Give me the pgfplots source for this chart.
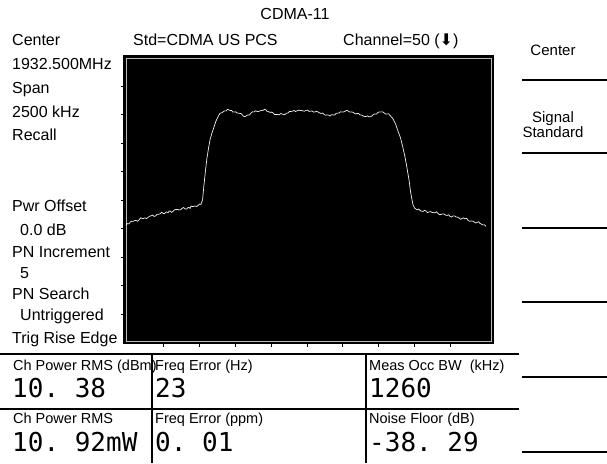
\documentclass[border=0pt]{standalone}
\usepackage{fontspec}
\setmainfont{Liberation Sans}
\setmonofont{DejaVu Sans Mono}
\newfontfamily\symfont{DejaVu Sans}
\usepackage{pgfplots}
\pgfplotsset{compat=1.18}

% text placed in picture pixels (1pt = 1px), y measured down from the top
\newcommand{\lab}[3]{\node[anchor=base west, inner sep=0pt, font=\fontsize{16}{19}\selectfont] at (#1pt,-#2pt) {#3};}
\newcommand{\tlab}[3]{\node[anchor=base west, inner sep=0pt, font=\fontsize{14.5}{17}\selectfont] at (#1pt,-#2pt) {#3};}
\newcommand{\val}[3]{\node[anchor=base west, inner sep=0pt, font=\fontsize{26}{30}\ttfamily] at (#1pt,-#2pt) {#3};}

\begin{document}
\begin{tikzpicture}
\useasboundingbox (0,0) rectangle (607pt,-463pt);

\begin{axis}[
    at={(124pt,-343pt)}, anchor=south west,
    scale only axis, width=369pt, height=287pt,
    xmin=-1274, xmax=1296, ymin=-80.2, ymax=20.5,
    xtick={-1000,-750,...,1000}, ytick={-70,-60,...,10},
    xticklabels={}, yticklabels={},
    xtick pos=bottom, ytick pos=left, tick align=outside,
    major tick length=3.5pt,
    tick style={black, line width=0.8pt},
    axis line style={black, line width=1.3pt},
    axis background/.style={fill=black},
  ]
  % inner light frame of the display
  \draw[gray!55, line width=0.9pt] ([shift={(2pt,2pt)}]rel axis cs:0,0) rectangle ([shift={(-2pt,-2pt)}]rel axis cs:1,1);

  % spectrum trace: offset from centre (kHz), level (dB)
  \addplot[gray!12, line width=0.7pt] coordinates {
    (-1260,-38.94) (-1253,-38.28) (-1246,-38.42) (-1239,-38.36) (-1232,-37.89)
    (-1222,-37.42) (-1211,-37.54) (-1200,-37.27) (-1190,-37.19) (-1180,-37.50)
    (-1169,-37.01) (-1158,-36.25) (-1148,-36.49) (-1138,-36.50) (-1128,-36.31)
    (-1117,-36.53) (-1107,-36.14) (-1096,-35.68) (-1086,-35.61) (-1075,-35.30)
    (-1065,-35.78) (-1054,-35.63) (-1044,-35.08) (-1033,-35.00) (-1023,-34.91)
    (-1012,-34.32) (-1002,-34.73) (-991,-34.77) (-981,-34.21) (-974,-34.29)
    (-967,-34.56) (-960,-33.91) (-953,-33.86) (-943,-34.35) (-933,-34.03)
    (-922,-33.48) (-912,-33.33) (-901,-33.32) (-891,-33.50) (-880,-33.44)
    (-870,-32.98) (-859,-32.67) (-849,-33.15) (-838,-33.19) (-828,-32.63)
    (-821,-32.60) (-814,-32.98) (-807,-32.13) (-800,-32.28) (-790,-32.29)
    (-779,-32.10) (-768,-32.32) (-758,-31.93) (-748,-31.45) (-738,-31.57)
    (-727,-30.00) (-717,-24.73) (-706,-19.47) (-696,-15.26) (-685,-11.75)
    (-675,-8.94) (-661,-6.49) (-647,-4.38) (-633,-2.28) (-616,-0.52)
    (-607,0.30) (-598,0.53) (-590,0.60) (-581,1.06) (-572,1.25)
    (-563,1.23) (-553,1.76) (-543,1.58) (-534,1.40) (-525,1.41)
    (-517,0.85) (-508,0.88) (-498,0.91) (-487,0.53) (-477,0.45)
    (-466,0.36) (-456,0.22) (-445,-0.52) (-437,-0.81) (-428,-0.70)
    (-419,-0.34) (-410,-0.17) (-400,-0.17) (-389,0.53) (-379,0.91)
    (-368,0.88) (-358,1.27) (-348,1.06) (-338,1.05) (-327,1.23)
    (-317,1.42) (-306,1.41) (-296,1.80) (-285,1.58) (-278,1.07)
    (-271,1.06) (-264,0.89) (-257,0.71) (-247,0.82) (-236,0.53)
    (-226,-0.03) (-215,0.00) (-205,0.01) (-194,-0.17) (-184,0.30)
    (-173,0.18) (-163,-0.11) (-153,0.00) (-143,0.37) (-132,0.53)
    (-122,1.05) (-111,1.06) (-101,1.14) (-90,1.41) (-80,1.02)
    (-69,1.23) (-59,1.52) (-48,1.41) (-38,1.42) (-27,1.23)
    (-17,1.12) (-6,1.41) (5,1.54) (15,1.06) (26,1.15)
    (36,1.23) (46,0.81) (56,0.88) (67,1.08) (77,0.88)
    (88,0.52) (98,0.36) (109,0.48) (119,0.00) (130,-0.29)
    (140,-0.17) (151,-0.25) (161,-0.52) (172,-0.10) (182,-0.17)
    (193,-0.20) (203,0.36) (214,0.45) (224,0.53) (234,0.91)
    (244,0.88) (255,0.87) (265,1.06) (276,1.45) (286,1.23)
    (297,0.86) (307,0.88) (318,0.81) (328,0.53) (339,0.15)
    (349,0.36) (360,0.30) (370,-0.17) (381,-0.25) (391,-0.52)
    (402,-0.81) (412,-0.70) (423,-0.49) (433,-0.87) (443,-0.80)
    (453,-0.52) (464,0.03) (474,0.18) (485,0.15) (495,0.71)
    (506,0.90) (516,0.88) (527,0.91) (537,0.53) (548,0.16)
    (558,0.18) (569,0.21) (579,-0.35) (600,-1.57) (617,-3.33)
    (634,-5.78) (652,-8.24) (669,-11.75) (683,-14.91) (697,-18.77)
    (711,-22.98) (722,-27.19) (732,-30.00) (739,-31.75) (749,-32.80)
    (767,-33.50) (778,-33.19) (788,-33.68) (799,-33.96) (809,-34.03)
    (819,-33.65) (829,-33.86) (840,-34.44) (850,-34.21) (861,-34.10)
    (871,-34.38) (882,-34.47) (892,-34.56) (903,-34.15) (913,-34.73)
    (924,-35.21) (934,-35.08) (945,-34.90) (955,-34.91) (966,-35.37)
    (976,-35.43) (987,-35.21) (997,-35.78) (1007,-36.00) (1017,-35.61)
    (1028,-35.59) (1038,-35.96) (1049,-36.04) (1059,-36.31) (1070,-36.80)
    (1080,-36.49) (1091,-36.28) (1101,-36.66) (1112,-36.43) (1122,-37.19)
    (1133,-37.48) (1143,-37.36) (1154,-37.44) (1164,-37.71) (1175,-38.10)
    (1185,-37.89) (1196,-37.67) (1206,-38.24) (1216,-38.51) (1226,-38.77)
    (1237,-38.73) (1247,-39.29)
  };
\end{axis}

% header
\node[anchor=base, inner sep=0pt, font=\fontsize{16}{19}\selectfont] at (295pt,-19pt) {CDMA-11};
\lab{12}{45.7}{Center}
\lab{133}{45.7}{Std=CDMA US PCS}
\lab{343}{45.7}{Channel=50 ({\symfont ⬇})}

% left settings column
\lab{12}{69}{1932.500MHz}
\lab{12}{93}{Span}
\lab{12}{117.4}{2500 kHz}
\lab{12}{140.7}{Recall}
\lab{12}{211.7}{Pwr Offset}
\lab{20}{235.7}{0.0 dB}
\lab{12}{257.4}{PN Increment}
\lab{20}{278.7}{5}
\lab{12}{299.7}{PN Search}
\lab{20}{320.7}{Untriggered}
\lab{12}{343.7}{Trig Rise Edge}

% soft keys on the right
\node[anchor=base, inner sep=0pt, font=\fontsize{15}{18}\selectfont] at (553pt,-55.7pt) {Center};
\node[anchor=base, inner sep=0pt, font=\fontsize{15}{18}\selectfont] at (553pt,-122.4pt) {Signal};
\node[anchor=base, inner sep=0pt, font=\fontsize{15}{18}\selectfont] at (553pt,-137.4pt) {Standard};
\foreach \yy in {80,153,228,302,377,452}
  \draw[line width=1.3pt] (522pt,-\yy pt) -- (607pt,-\yy pt);

% measurement table
\draw[line width=1.3pt] (0pt,-354pt) -- (519pt,-354pt);
\draw[line width=1.3pt] (0pt,-409pt) -- (519pt,-409pt);
\draw[line width=1.3pt] (152pt,-354pt) -- (152pt,-463pt);
\draw[line width=1.3pt] (366pt,-354pt) -- (366pt,-463pt);

\tlab{13}{370}{Ch Power RMS (dBm)}
\tlab{155}{370}{Freq Error (Hz)}
\tlab{369}{370}{Meas Occ BW\ \ (kHz)}
\val{12}{397}{10. 38}
\val{155}{397}{23}
\val{369}{397}{1260}

\tlab{13}{423.5}{Ch Power RMS}
\tlab{155}{423.5}{Freq Error (ppm)}
\tlab{369}{423.5}{Noise Floor (dB)}
\val{12}{451}{10. 92mW}
\val{155}{451}{0. 01}
\val{369}{451}{-38. 29}
\end{tikzpicture}
\end{document}
